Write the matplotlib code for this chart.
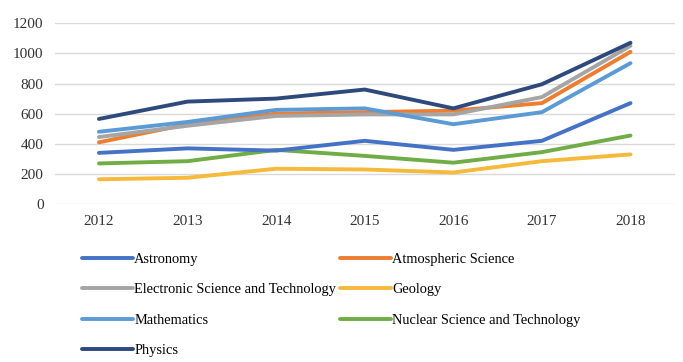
import matplotlib.pyplot as plt

years = ["2012", "2013", "2014", "2015", "2016", "2017", "2018"]

astronomy = [340, 370, 355, 420, 360, 420, 670]
atmospheric = [410, 530, 600, 610, 620, 670, 1010]
electronic = [445, 520, 585, 595, 595, 710, 1050]
geology = [165, 175, 235, 230, 210, 285, 330]
mathematics = [480, 545, 625, 635, 530, 610, 935]
nuclear = [270, 285, 360, 320, 275, 345, 455]
physics = [565, 680, 700, 760, 635, 795, 1070]

plt.rcParams['font.family'] = ['Liberation Serif', 'DejaVu Serif']

fig = plt.figure(figsize=(6.83, 3.62), dpi=100)
ax = fig.add_axes([0.08, 0.436, 0.908, 0.500])

x = range(len(years))
lines = {}
# draw order: lower series first, physics on top
series = [
    ("Geology", geology, "#F5B93B"),
    ("Nuclear Science and Technology", nuclear, "#70AD47"),
    ("Astronomy", astronomy, "#4472C4"),
    ("Atmospheric Science", atmospheric, "#ED7D31"),
    ("Electronic Science and Technology", electronic, "#A5A5A5"),
    ("Mathematics", mathematics, "#5B9BD5"),
    ("Physics", physics, "#2E4A7D"),
]
for name, vals, col in series:
    lines[name], = ax.plot(x, vals, color=col, lw=2.8, label=name, solid_capstyle='round')

ax.set_xlim(-0.5, len(years) - 0.5)
ax.set_ylim(0, 1200)
ax.set_yticks(range(0, 1201, 200))
ax.set_xticks(list(x))
ax.set_xticklabels(years)
ax.grid(axis='y', color='#D9D9D9', lw=1)
ax.set_axisbelow(True)
for s in ax.spines.values():
    s.set_visible(False)
ax.tick_params(length=0, labelsize=11, colors='#333333', pad=8)

order = ["Astronomy", "Electronic Science and Technology", "Mathematics", "Physics",
         "Atmospheric Science", "Geology", "Nuclear Science and Technology"]
fig.legend([lines[n] for n in order], order, ncol=2, loc='upper left',
           bbox_to_anchor=(0.112, 0.318), frameon=False, fontsize=10.4,
           handlelength=3.5, handletextpad=0.1, columnspacing=0.3,
           labelspacing=1.2, borderaxespad=0)

fig.savefig("out.png", dpi=100)
